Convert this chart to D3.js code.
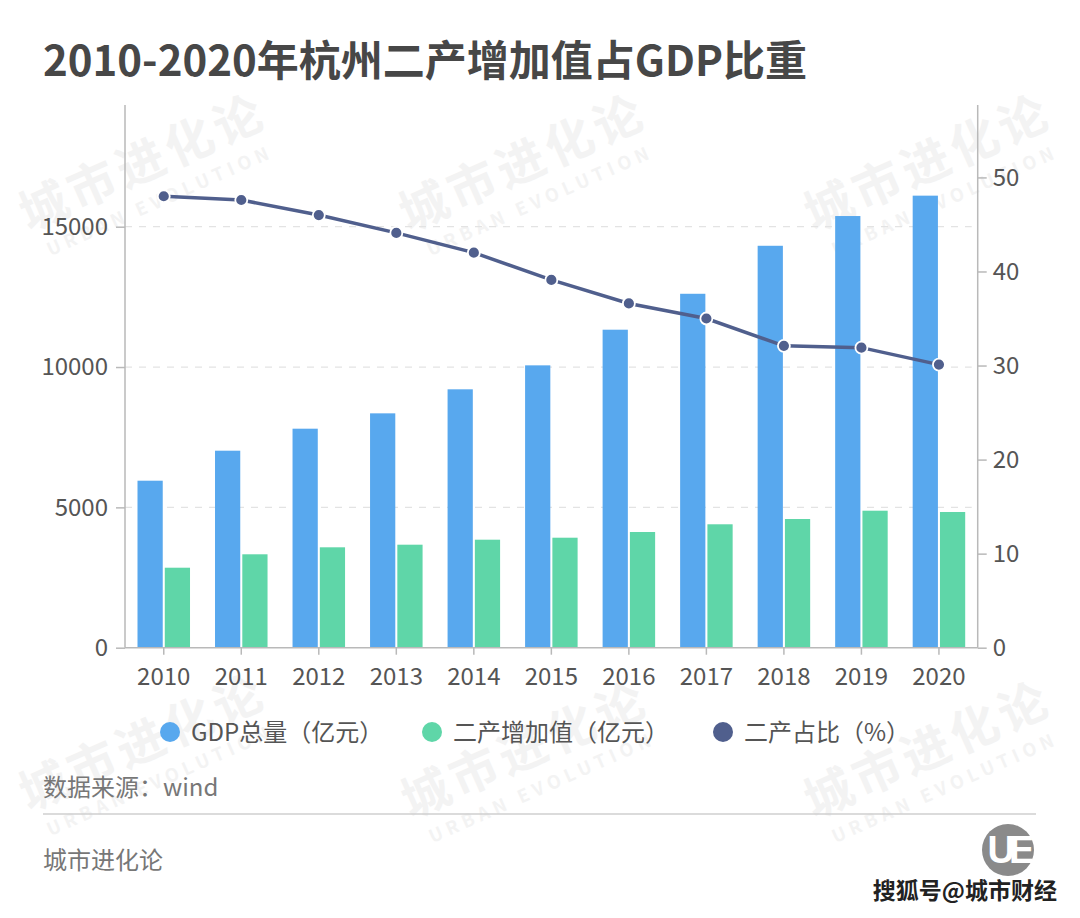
<!DOCTYPE html>
<html><head><meta charset="utf-8">
<script src="https://cdn.jsdelivr.net/npm/d3@7/dist/d3.min.js"></script>
<style>
html,body{margin:0;padding:0;background:#fff;}
svg{display:block;font-family:"Noto Sans CJK SC","Noto Sans",sans-serif;}
</style></head>
<body>
<svg id="chart" width="1080" height="918"></svg>
<script>
const title = "2010-2020年杭州二产增加值占GDP比重";
const years = ["2010","2011","2012","2013","2014","2015","2016","2017","2018","2019","2020"];
const gdp = [5950, 7019, 7803, 8350, 9206, 10060, 11330, 12610, 14320, 15380, 16106];
const secondary = [2850, 3328, 3577, 3670, 3848, 3919, 4122, 4397, 4585, 4881, 4835];
const share = [48.0, 47.6, 46.0, 44.1, 42.0, 39.1, 36.6, 35.0, 32.1, 31.9, 30.1];
const leftTicks = [0, 5000, 10000, 15000];
const rightTicks = [0, 10, 20, 30, 40, 50];
const seriesNames = ["GDP总量（亿元）", "二产增加值（亿元）", "二产占比（%）"];
const colors = ["#58a8ee", "#5fd6a8", "#505f8d"];

const svg = d3.select("#chart");
const L = 125, R = 977.7, T = 105, B = 647.7;

// watermarks
const wmPos = [[150,178],[530,178],[935,178],[150,758],[532,765],[935,765]];
const wm = svg.append("g");
wmPos.forEach(([cx,cy]) => {
  const g = wm.append("g").attr("transform", `translate(${cx},${cy}) rotate(-24)`);
  g.append("text").attr("text-anchor","middle").attr("y",0)
    .attr("font-size",48).attr("font-weight","bold").attr("fill","#f3f3f3")
    .attr("letter-spacing",5).text("城市进化论");
  g.append("text").attr("text-anchor","middle").attr("y",31)
    .attr("font-size",18).attr("font-weight","bold").attr("fill","#f3f3f3")
    .attr("letter-spacing",5).text("URBAN EVOLUTION");
});

// title
svg.append("text").attr("x",43).attr("y",76).attr("font-size",42).attr("font-weight","bold")
  .attr("fill","#474747").text(title);

const x = d3.scaleBand().domain(years).range([L, R]).paddingInner(0).paddingOuter(0);
const bw = x.bandwidth();
const x1 = d3.scaleBand().domain(["gdp","sec"]).range([12.5, bw-12.5]).paddingInner(0.075);
const yL = d3.scaleLinear().domain([0, 19336]).range([B, T]);
const yR = d3.scaleLinear().domain([0, 57.7]).range([B, T]);

// gridlines
svg.append("g").selectAll("line").data(leftTicks.filter(d=>d>0)).join("line")
  .attr("x1",L).attr("x2",R-6).attr("y1",d=>yL(d)).attr("y2",d=>yL(d))
  .attr("stroke","#e3e3e3").attr("stroke-width",1.2).attr("stroke-dasharray","7,7");

// bars
const bars = svg.append("g");
bars.selectAll(".g").data(years).join("rect")
  .attr("x",d=>x(d)+x1("gdp")).attr("width",x1.bandwidth())
  .attr("y",(d,i)=>yL(gdp[i])).attr("height",(d,i)=>B-yL(gdp[i])).attr("fill",colors[0]);
bars.selectAll(".s").data(years).join("rect")
  .attr("x",d=>x(d)+x1("sec")).attr("width",x1.bandwidth())
  .attr("y",(d,i)=>yL(secondary[i])).attr("height",(d,i)=>B-yL(secondary[i])).attr("fill",colors[1]);

// axes
const axisColor = "#b9b9b9", labelColor = "#555";
const axL = svg.append("g").attr("transform",`translate(${L},0)`)
  .call(d3.axisLeft(yL).tickValues(leftTicks).tickFormat(d3.format("d")).tickSize(9).tickPadding(8));
const axR = svg.append("g").attr("transform",`translate(${R},0)`)
  .call(d3.axisRight(yR).tickValues(rightTicks).tickFormat(d3.format("d")).tickSize(9).tickPadding(6));
const axB = svg.append("g").attr("transform",`translate(0,${B})`)
  .call(d3.axisBottom(x).tickSize(7).tickPadding(12));
[axL, axR, axB].forEach(a => {
  a.select(".domain").remove();
  a.selectAll(".tick line").attr("stroke",axisColor).attr("stroke-width",1.5);
  a.selectAll(".tick text").attr("fill",labelColor).attr("font-size",24)
    .attr("font-family","'Noto Sans CJK SC','Noto Sans',sans-serif");
});
axB.selectAll(".tick text").attr("dy","0.75em");
svg.append("line").attr("x1",L).attr("x2",L).attr("y1",T).attr("y2",B).attr("stroke",axisColor).attr("stroke-width",1.5);
svg.append("line").attr("x1",R).attr("x2",R).attr("y1",T).attr("y2",B).attr("stroke",axisColor).attr("stroke-width",1.5);
svg.append("line").attr("x1",L).attr("x2",R).attr("y1",B).attr("y2",B).attr("stroke",axisColor).attr("stroke-width",1.5);

// line
const line = d3.line().x((d,i)=>x(years[i])+bw/2).y(d=>yR(d));
svg.append("path").datum(share).attr("d",line).attr("fill","none")
  .attr("stroke",colors[2]).attr("stroke-width",3.5);
svg.append("g").selectAll("circle").data(share).join("circle")
  .attr("cx",(d,i)=>x(years[i])+bw/2).attr("cy",d=>yR(d)).attr("r",6)
  .attr("fill",colors[2]).attr("stroke","#fff").attr("stroke-width",1.8);

// legend
const legX = [170, 432, 723];
const leg = svg.append("g");
seriesNames.forEach((n,i) => {
  leg.append("circle").attr("cx",legX[i]).attr("cy",732).attr("r",10).attr("fill",colors[i]);
  leg.append("text").attr("x",legX[i]+21).attr("y",741).attr("font-size",24).attr("fill","#555").text(n);
});

// footer
svg.append("text").attr("x",43).attr("y",796).attr("font-size",24).attr("fill","#777").text("数据来源：wind");
svg.append("line").attr("x1",43).attr("x2",1036).attr("y1",814).attr("y2",814).attr("stroke","#cfcfcf").attr("stroke-width",1.5);
svg.append("text").attr("x",43).attr("y",869).attr("font-size",24).attr("fill","#777").text("城市进化论");

// logo
const lg = svg.append("g").attr("transform","translate(1008,850)");
lg.append("circle").attr("r",26).attr("fill","#8a8a8a");
lg.append("text").attr("text-anchor","middle").attr("y",13).attr("font-size",38).attr("font-weight","bold")
  .attr("fill","#fff").attr("font-family","'Liberation Sans',sans-serif").attr("letter-spacing",-6).text("UE");
svg.append("text").attr("x",1057).attr("y",899).attr("text-anchor","end").attr("font-size",23).attr("font-weight","bold")
  .attr("fill","#222").attr("stroke","#fff").attr("stroke-width",3).attr("paint-order","stroke").text("搜狐号@城市财经");
</script>
</body></html>
